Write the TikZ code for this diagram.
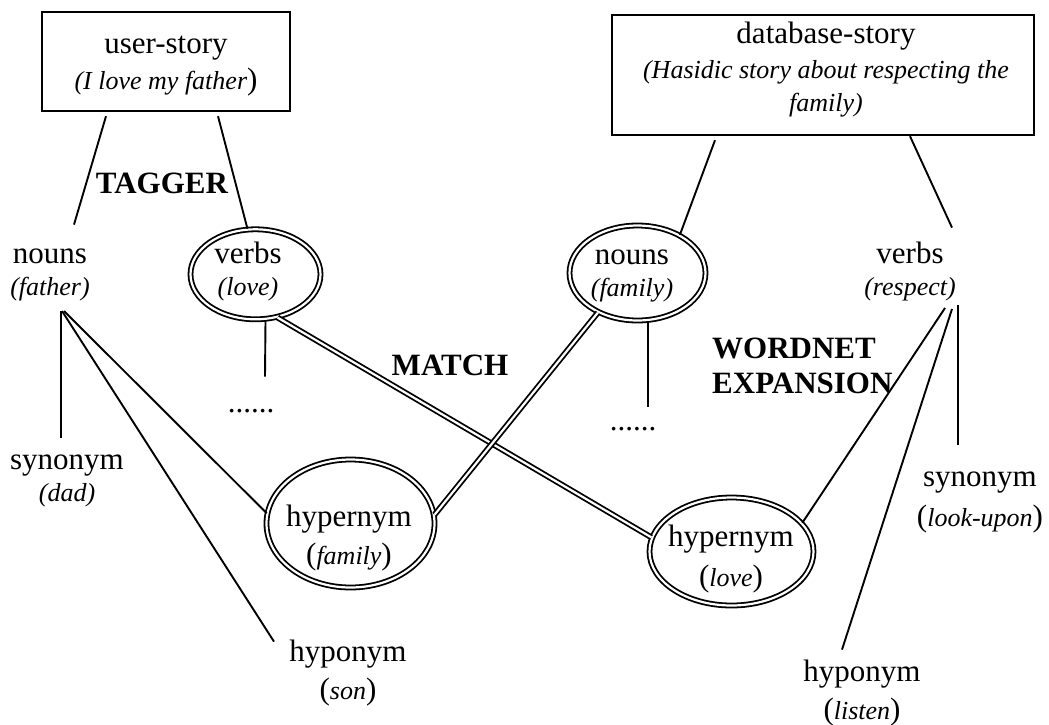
\documentclass[tikz,border=0pt]{standalone}
\usepackage{fontspec}
\setmainfont{Liberation Serif}
\usetikzlibrary{calc,positioning,shapes.geometric}

% italic gloss under a word
\newcommand{\gl}[1]{{\fontsize{26}{30}\selectfont\itshape #1}}

\begin{document}
\begin{tikzpicture}[x=1pt,y=-1pt,
    every node/.style={font=\fontsize{31}{32}\selectfont},
    wtxt/.style={align=center,inner sep=0pt,anchor=north},
    story/.style={draw,line width=2.4pt,inner sep=0pt},
    ring/.style={ellipse,draw,double,line width=1.8pt,double distance=2.2pt,inner sep=0pt},
    link/.style={line width=1.9pt},
    match/.style={double,line width=1.8pt,double distance=2.2pt},
    tag/.style={font=\fontsize{31}{32}\selectfont\bfseries,inner sep=0pt}]
  \useasboundingbox (0,0) rectangle (1049,724);

  % the two stories
  \node[story,minimum width=248pt,minimum height=99pt] (userS) at (166,61.5) {};
  \node[wtxt] (userT) at (166,30.6) {\strut user-story\\[4pt]\gl{(I love my father})\strut};
  \node[story,minimum width=422pt,minimum height=120pt] (dbS) at (823,75) {};
  \node[wtxt] (dbT) at (826,20.6) {\strut database-story\\[3pt]\gl{(Hasidic story about respecting the}\\[1pt]\gl{family)}\strut};

  % tagged words
  \node[wtxt] (nounsL) at (50,240.6) {\strut nouns\\\gl{(father)}\strut};
  \node[ring,minimum width=130pt,minimum height=90pt] (verbsL) at (255.5,274.3) {};
  \node[wtxt] (verbsLt) at (248,240.6) {\strut verbs\\\gl{(love)}\strut};
  \node[ring,minimum width=136pt,minimum height=95pt] (nounsR) at (637.5,273) {};
  \node[wtxt] (nounsRt) at (632,241.6) {\strut nouns\\\gl{(family)}\strut};
  \node[wtxt] (verbsR) at (910,240.6) {\strut verbs\\\gl{(respect)}\strut};

  % wordnet relations
  \node[wtxt] (synL) at (67,446.6) {\strut synonym\\\gl{(dad)}\strut};
  \node[ring,minimum width=168pt,minimum height=128pt] (hyperF) at (350.5,523.5) {};
  \node[wtxt] (hyperFt) at (349,503.6) {\strut hypernym\\[6pt](\gl{family})\strut};
  \node[wtxt] (hypoL) at (348,638.6) {\strut hyponym\\[6pt](\gl{son})\strut};
  \node[ring,minimum width=164pt,minimum height=108pt] (hyperL) at (731.5,551.5) {};
  \node[wtxt] (hyperLt) at (731,523.6) {\strut hypernym\\[8pt](\gl{love})\strut};
  \node[wtxt] (synR) at (980,463.6) {\strut synonym\\[8pt](\gl{look-upon})\strut};
  \node[wtxt] (hypoR) at (862,658.6) {\strut hyponym\\[6pt](\gl{listen})\strut};
  \node[anchor=base,inner sep=0pt] (dotsL) at (251,412) {......};
  \node[anchor=base,inner sep=0pt] (dotsR) at (633,430) {......};

  % stage names
  \node[tag,anchor=base] (tagger) at (162,193) {TAGGER};
  \node[tag,anchor=base] (match) at (450,375) {MATCH};
  \node[tag,anchor=north west,align=left] (expand) at (712,335.6) {\strut WORDNET\\[3pt]EXPANSION};

  % tagger
  \draw[link] ([xshift=-60pt,yshift=-4pt]userS.south) -- ([xshift=24pt,yshift=16pt]nounsL.north);
  \draw[link] ([xshift=52pt,yshift=-4pt]userS.south) -- (verbsL.100);
  \draw[link] ([xshift=-108pt,yshift=-4pt]dbS.south) -- (nounsR.42);
  \draw[link] ([xshift=87pt]dbS.south) -- ([xshift=42pt,yshift=13pt]verbsR.north);

  % expansion
  \draw[link] ([xshift=11pt,yshift=-6pt]nounsL.south) -- ([xshift=-6pt,yshift=9pt]synL.north);
  \draw[link] ([xshift=14pt,yshift=-6pt]nounsL.south) -- (hyperF.173);
  \draw[link] ([xshift=12pt,yshift=-6pt]nounsL.south) -- ([xshift=-74pt,yshift=-3pt]hypoL.north);
  \draw[link] ([xshift=10pt]verbsL.south) -- ([xshift=14pt,yshift=32pt]dotsL.north);
  \draw[link] ([xshift=10.5pt]nounsR.south) -- ([xshift=15pt,yshift=20pt]dotsR.north);
  \draw[link] ([xshift=35pt,yshift=-3pt]verbsR.south) -- (hyperL.22);
  \draw[link] ([xshift=42pt,yshift=-4pt]verbsR.south) -- ([xshift=-20pt,yshift=9pt]hypoR.north);
  \draw[link] ([xshift=48pt]verbsR.south) -- ([xshift=-22pt,yshift=19pt]synR.north);

  % matches
  \draw[match] (verbsL.-63) -- (hyperL.170);
  \draw[match] (nounsR.-135) -- (hyperF.6);
\end{tikzpicture}
\end{document}
